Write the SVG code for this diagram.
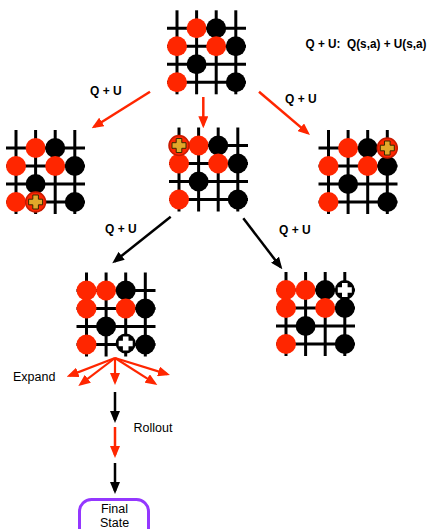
<svg xmlns="http://www.w3.org/2000/svg" xmlns:xlink="http://www.w3.org/1999/xlink" width="429" height="529" viewBox="0 0 429 529">
  <style>
    .grid line { stroke: #000; stroke-width: 3; }
    .r { fill: #ff2600; }
    .b { fill: #000; }
    .rp { fill: #ff2600; stroke: #c81a00; stroke-width: 1.5; }
    .gold { fill: #e2a82a; stroke: #3a2800; stroke-width: 1; }
    .wp { fill: #fff; }
    .lbl { font-family: "Liberation Sans", Arial, sans-serif; font-size: 12px; font-weight: bold; fill: #000; }
    .txt { font-family: "Liberation Sans", Arial, sans-serif; font-size: 12.5px; fill: #000; }
    .red { stroke: #ff2600; stroke-width: 2.5; fill: none; marker-end: url(#headR); }
    .blk { stroke: #000; stroke-width: 2.5; fill: none; marker-end: url(#headB); }
    .thin { stroke-width: 2.2; }
    .box { fill: #fff; stroke: #9437ff; stroke-width: 3; }
  </style>
  <defs>
    <marker id="headR" viewBox="0 0 12 10" markerWidth="12" markerHeight="10" refX="9" refY="5" orient="auto" markerUnits="userSpaceOnUse">
      <path d="M0,0 L12,5 L0,10 z" fill="#ff2600"/>
    </marker>
    <marker id="headB" viewBox="0 0 12 10" markerWidth="12" markerHeight="10" refX="9" refY="5" orient="auto" markerUnits="userSpaceOnUse">
      <path d="M0,0 L12,5 L0,10 z" fill="#000"/>
    </marker>
    <!-- 4x4 board section, column pitch 19.6, row pitch 18 -->
    <g id="grid" class="grid">
      <line x1="0" y1="-18" x2="0" y2="66"/>
      <line x1="19.6" y1="-18" x2="19.6" y2="66"/>
      <line x1="39.2" y1="-18" x2="39.2" y2="66"/>
      <line x1="58.8" y1="-18" x2="58.8" y2="66"/>
      <line x1="-10" y1="0" x2="69" y2="0"/>
      <line x1="-10" y1="18" x2="69" y2="18"/>
      <line x1="-10" y1="36" x2="69" y2="36"/>
      <line x1="-10" y1="54" x2="69" y2="54"/>
    </g>
    <!-- stones shared by every position -->
    <g id="base">
      <circle class="r" cx="19.6" cy="0" r="10"/>
      <circle class="b" cx="39.2" cy="0" r="10"/>
      <circle class="r" cx="0" cy="18" r="10"/>
      <circle class="r" cx="39.2" cy="18" r="10"/>
      <circle class="b" cx="58.8" cy="18" r="10"/>
      <circle class="b" cx="19.6" cy="36" r="10"/>
      <circle class="r" cx="0" cy="54" r="10"/>
      <circle class="b" cx="58.8" cy="54" r="10"/>
    </g>
    <path id="plus" d="M-2.8,-7 h5.6 v4.2 h4.2 v5.6 h-4.2 v4.2 h-5.6 v-4.2 h-4.2 v-5.6 h4.2 z"/>
    <g id="redPlus">
      <circle class="rp" cx="0" cy="0" r="10"/>
      <use href="#plus" class="gold"/>
    </g>
    <g id="blackPlus">
      <circle class="b" cx="0" cy="0" r="10"/>
      <use href="#plus" class="wp"/>
    </g>
  </defs>

  <rect width="429" height="529" fill="#fff"/>

  <!-- root position -->
  <g id="root" transform="translate(177,28.3)">
    <use href="#grid"/>
    <use href="#base"/>
  </g>

  <!-- first level children -->
  <g id="childLeft" transform="translate(16,148)">
    <use href="#grid"/>
    <use href="#base"/>
    <use href="#redPlus" x="19.6" y="54"/>
  </g>
  <g id="childMid" transform="translate(179,145.5)">
    <use href="#grid"/>
    <use href="#base"/>
    <use href="#redPlus" x="0" y="0"/>
  </g>
  <g id="childRight" transform="translate(328.5,148)">
    <use href="#grid"/>
    <use href="#base"/>
    <use href="#redPlus" x="58.8" y="0"/>
  </g>

  <!-- second level children -->
  <g id="grandLeft" transform="translate(86.5,290.5)">
    <use href="#grid"/>
    <use href="#base"/>
    <circle class="r" cx="0" cy="0" r="10"/>
    <use href="#blackPlus" x="39.2" y="53"/>
  </g>
  <g id="grandRight" transform="translate(286,290)">
    <use href="#grid"/>
    <use href="#base"/>
    <circle class="r" cx="0" cy="0" r="10"/>
    <use href="#blackPlus" x="58.8" y="0"/>
  </g>

  <!-- terminal node -->
  <g id="finalState">
    <rect class="box" x="79.5" y="499.5" width="69" height="44" rx="12"/>
    <text class="txt" x="114.5" y="512.5" text-anchor="middle">Final</text>
    <text class="txt" x="114.5" y="527" text-anchor="middle">State</text>
  </g>

  <!-- connectors -->
  <g id="connectors">
    <line class="red" x1="150" y1="91.7" x2="94.2" y2="126.7"/>
    <line class="red" x1="203.3" y1="97" x2="203.3" y2="125.3"/>
    <line class="red" x1="259" y1="91.7" x2="307.7" y2="133.1"/>
    <line class="blk" x1="170.7" y1="216.7" x2="114.6" y2="261.4"/>
    <line class="blk" x1="243.3" y1="218.3" x2="280.5" y2="266.9"/>
    <line class="red thin" x1="115" y1="358" x2="69.5" y2="375.6"/>
    <line class="red thin" x1="115" y1="358" x2="80.7" y2="384.2"/>
    <line class="red thin" x1="115" y1="358" x2="115" y2="382"/>
    <line class="red thin" x1="115" y1="358" x2="154.8" y2="383.4"/>
    <line class="red thin" x1="115" y1="358" x2="167.1" y2="374.1"/>
    <line class="blk" x1="115" y1="392" x2="115" y2="420"/>
    <line class="red" x1="115" y1="427" x2="115" y2="455"/>
    <line class="blk" x1="115" y1="463" x2="115" y2="491"/>
  </g>

  <!-- labels -->
  <g id="labels">
    <text class="lbl" x="305.5" y="48" textLength="121" lengthAdjust="spacingAndGlyphs">Q + U:&#160; Q(s,a) + U(s,a)</text>
    <text class="lbl" x="90" y="94.5">Q + U</text>
    <text class="lbl" x="285" y="102.5">Q + U</text>
    <text class="lbl" x="105" y="233">Q + U</text>
    <text class="lbl" x="279" y="234">Q + U</text>
    <text class="txt" x="13" y="380.5">Expand</text>
    <text class="txt" x="133.5" y="431.5">Rollout</text>
  </g>
</svg>
